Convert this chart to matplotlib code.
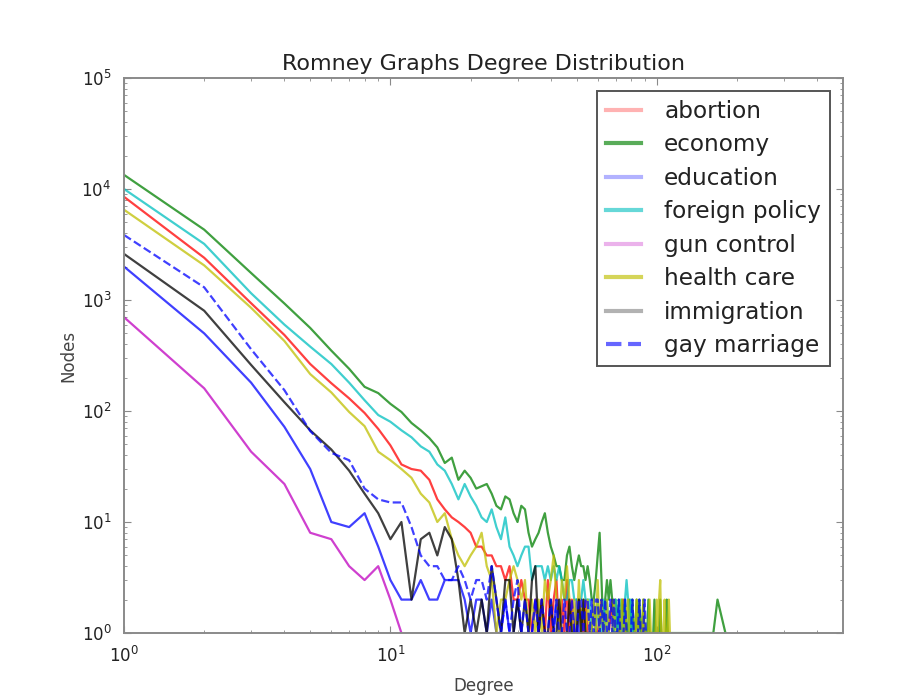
import numpy as np
import matplotlib
matplotlib.use("Agg")
import matplotlib.pyplot as plt

# node counts per degree, index 0 -> degree 1 (0 = degree not present)
abortion = [8500, 2400, 935, 484, 265, 178, 130, 96, 69, 49, 33, 30, 29, 24, 16,
            13, 11, 10, 9, 8, 6, 6, 5, 5, 4, 4, 3, 4, 2, 2, 3, 2, 2, 1, 2,
            1, 2, 1, 3, 1, 2, 3, 1, 2, 1, 3, 1, 2, 1, 1, 2, 0, 1, 2, 1, 0, 1, 2, 1, 1,
            0, 2, 1, 0, 1, 1, 0, 2, 1, 0, 1, 1, 0, 0, 2, 1, 0, 1, 0, 1]
economy = [13400, 4300, 1750, 930, 560, 350, 240, 165, 145, 116, 98, 78, 67, 57, 47,
           34, 38, 24, 29, 25,
           20, 21, 22, 18, 14, 13, 17, 16, 12, 10, 14, 13, 8, 6, 7, 8, 10, 12, 8, 6,
           5, 4, 4, 3, 3, 5, 6, 4, 3, 4, 5, 4, 4, 3, 4, 3, 2, 2, 3, 5,
           8, 3, 1, 2, 3, 2, 3, 2, 1, 2, 1, 2, 1, 2, 1, 2, 1, 1, 2, 1,
           2, 1, 1, 2, 1, 2, 1, 1, 2, 1, 0, 1, 2, 1, 1, 0, 1, 2, 1, 1,
           0, 1, 2, 1, 1, 0, 1, 1, 2, 1, 0, 1, 1,
           0, 0, 0, 0, 0, 0, 0, 0, 0, 0, 0, 0, 0, 0, 0, 0, 0, 0, 0, 0,
           0, 0, 0, 0, 0, 0, 0, 0, 0, 0, 0, 0, 0, 0, 0, 0, 0, 0, 0, 0,
           0, 0, 0, 0, 0, 0, 0, 0, 0, 1, 0, 0, 0, 0, 0, 2, 0, 0, 0, 0,
           0, 0, 0, 0, 0, 0, 0, 1]
education = [2000, 500, 180, 72, 30, 10, 9, 12, 6, 3, 2, 2, 3, 2, 2, 3, 3, 3, 2, 1,
             2, 2, 1, 2, 1, 1, 2, 1, 1, 2, 1, 1, 0, 1, 2, 1, 0, 1, 1, 0,
             1, 2, 1, 0, 1, 1, 0, 1, 1, 2, 1]
foreign_policy = [10000, 3200, 1150, 600, 380, 265, 180, 125, 92, 80, 67, 58, 48, 43, 33,
                  29, 22, 16, 22, 17,
                  14, 11, 10, 13, 9, 7, 11, 6, 5, 4, 5, 6, 6, 3, 4, 4, 4, 3, 4, 3,
                  4, 3, 4, 3, 2, 2, 3, 3, 2, 2, 2, 2, 3, 2, 2, 2, 1, 2, 1, 2,
                  1, 1, 2, 1, 2, 1, 1, 0, 1, 2, 1, 0, 2, 1, 1, 2, 3, 2, 1, 2,
                  1, 1, 0, 1, 1, 0, 1]
gun_control = [700, 160, 43, 22, 8, 7, 4, 3, 4, 2, 1]
health_care = [6500, 2050, 850, 427, 215, 147, 98, 73, 43, 36, 30, 25, 18,
               15, 10, 12, 7, 5, 4, 5, 6, 8, 4, 3, 1, 2, 2, 3, 4, 3, 2, 3, 1, 2, 1,
               2, 1, 3, 2, 3, 5, 2, 1, 3, 2, 4, 2, 1, 2, 1, 3, 1, 2, 1, 2, 1, 1, 2, 1,
               3, 1, 2, 1, 1, 2, 1, 0, 1, 2, 1, 1, 0, 1, 2, 1, 1, 0, 2, 1, 1,
               0, 1, 1, 2, 1, 0, 1, 1, 2, 1, 1, 0, 1, 2, 1, 1, 0, 1, 1, 2,
               1, 2, 3, 1, 0, 1, 2, 1, 0, 1, 2, 1]
immigration = [2600, 800, 260, 120, 67, 45, 29, 18, 12, 7, 10, 2, 7, 8, 5, 9, 7, 3, 1, 2,
               1, 2, 1, 4, 2, 1, 3, 3, 1, 2, 1, 2, 1, 3, 4, 1, 2, 1, 1, 2,
               1, 1, 2, 1, 0, 1, 2, 1, 0, 1, 2, 1, 2, 1, 0, 1, 1, 0, 1, 1]
gay_marriage = [3850, 1300, 360, 154, 66, 42, 36, 20, 16, 15, 15, 9, 5, 4, 4, 3, 3, 4, 3, 2,
                3, 3, 2, 4, 2, 1, 2, 1, 2, 3, 1, 2, 1, 1, 2, 1, 2, 1, 1, 2,
                1, 2, 1, 1, 2, 1, 1, 2, 1, 1, 2, 2, 1, 2, 2, 1, 2, 1, 2, 2,
                1, 2, 1, 2, 1, 1, 2, 1, 2, 1, 1, 2, 1, 0, 1, 2, 1, 1, 0, 1,
                2, 1, 0, 1, 1, 2, 1, 0, 1, 2, 1]

labels = ["abortion", "economy", "education", "foreign policy", "gun control",
          "health care", "immigration", "gay marriage"]
series = [abortion, economy, education, foreign_policy, gun_control,
          health_care, immigration, gay_marriage]
styles = ["r-", "g-", "b-", "c-", "m-", "y-", "k-", "b--"]
legend_alpha = [0.3, 0.65, 0.3, 0.6, 0.3, 0.65, 0.3, 0.6]

fig = plt.figure(figsize=(9.2, 6.98), dpi=100)
ax = fig.add_axes([0.1348, 0.0931, 0.7815, 0.7952])

for lab, counts, st in zip(labels, series, styles):
    c = np.array(counts, dtype=float)
    deg = np.arange(1, len(c) + 1)
    keep = c > 0
    ax.loglog(deg[keep], c[keep], st, lw=1.6, alpha=0.75, label=lab)

ax.set_xlim(1, 500)
ax.set_ylim(1, 1e5)

txt = "#222222"
ax.set_title("Romney Graphs Degree Distribution", fontsize=16, color=txt, pad=6)
ax.set_xlabel("Degree", fontsize=12, color="#444444", labelpad=8)
ax.set_ylabel("Nodes", fontsize=12, color="#444444", labelpad=3)

for s in ax.spines.values():
    s.set_color("#8a8a8a")
    s.set_linewidth(1.4)
ax.tick_params(which="both", direction="in", top=True, right=True,
               colors="#8a8a8a", labelcolor=txt, labelsize=12)
ax.tick_params(which="major", length=5, pad=9)
ax.tick_params(which="minor", length=2.5)

leg = ax.legend(loc="upper right", fontsize=16.7, fancybox=False, framealpha=1,
                edgecolor="#555555", handlelength=1.5, handletextpad=1.0,
                labelspacing=0.45, borderpad=0.4, borderaxespad=0.55)
leg.get_frame().set_linewidth(1.4)
for h, a in zip(leg.get_lines(), legend_alpha):
    h.set_linewidth(3)
    h.set_alpha(a)
for t in leg.get_texts():
    t.set_color(txt)

fig.savefig("out.png", dpi=100, facecolor="white")
